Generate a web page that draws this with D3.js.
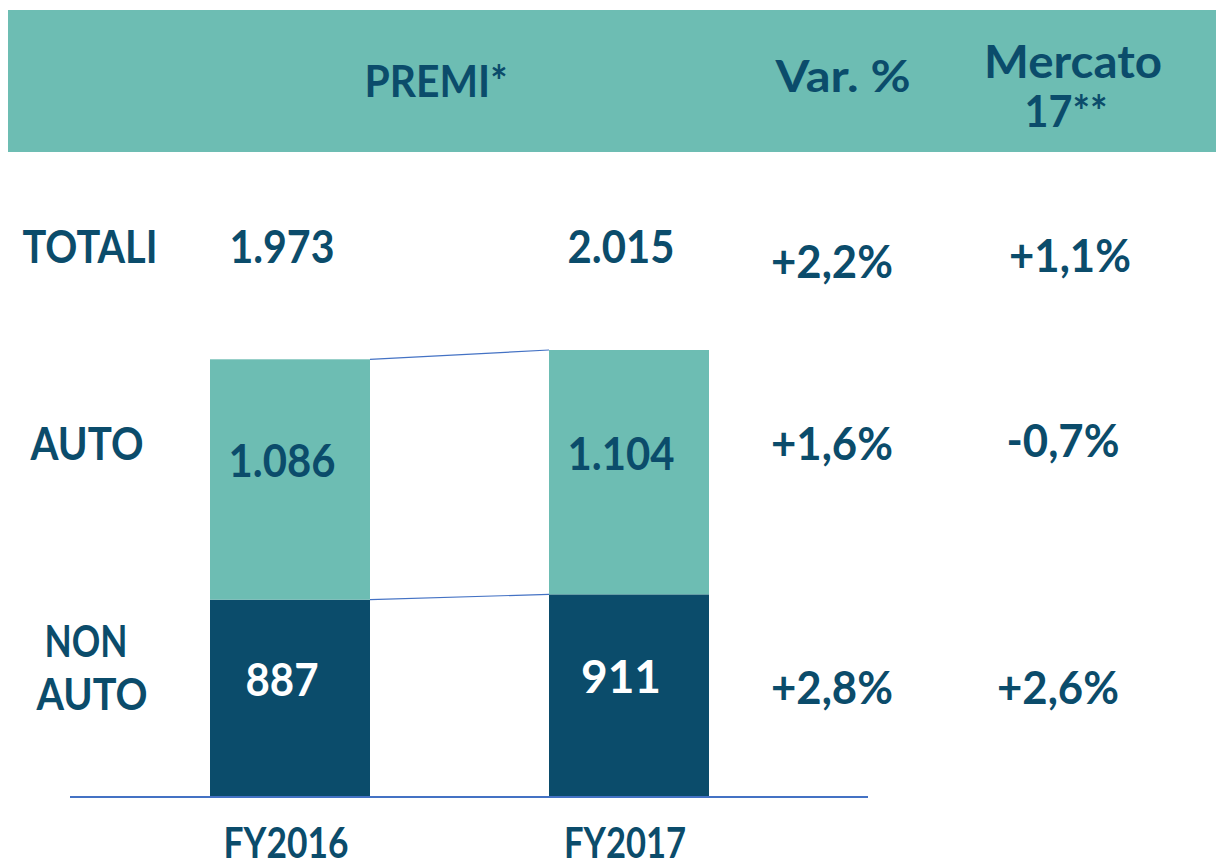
<!DOCTYPE html>
<html>
<head>
	<meta charset="utf-8">
	<title>Premi</title>
<style>
body { margin: 0; background: #fff; }
svg text {
	font-family: Lato, "Open Sans", sans-serif;
	font-weight: 700;
	fill: #0B4C6B;
}
</style>
</head>
<body>
<script src="https://cdn.jsdelivr.net/npm/d3@7"></script>
<script>
// data
var years = ["FY2016", "FY2017"];
var nonAuto = [887, 911];
var auto = [1086, 1104];
var totals = [1973, 2015];
var rowNames = ["TOTALI", "AUTO", "NON AUTO"];
var varPct = ["+2,2%", "+1,6%", "+2,8%"];
var mercato = ["+1,1%", "-0,7%", "+2,6%"];

var width = 1216, height = 866;
var teal = "#6DBDB3", navy = "#0B4C6B", lineBlue = "#4472C4";

var svg = d3.select("body").append("svg")
	.attr("width", width)
	.attr("height", height);

var fmt = function(v){ return d3.format(",")(v).replace(/,/g, "."); };

// squeeze text to the width it has on the slide (the original font is narrower)
function label(px, py, txt, size, w){
	var t = svg.append("text").attr("x", px).attr("y", py)
		.attr("text-anchor", "middle").style("font-size", size + "px")
		.text(txt);
	if (w) t.attr("textLength", w).attr("lengthAdjust", "spacingAndGlyphs");
	return t;
}

// header band
svg.append("rect")
	.attr("x", 8).attr("y", 10)
	.attr("width", width - 8).attr("height", 142)
	.attr("fill", teal);

label(436, 97, "PREMI*", 44, 143);
label(843, 92, "Var. %", 44, 135);
label(1073, 78, "Mercato", 46, 178);
label(1066, 127, "17**", 44, 83);

// scales
var x = d3.scalePoint().domain(years).range([290, 629]);
var y = d3.scaleLinear().domain([0, 2015]).range([796, 350]);
var barW = 160;

// stacked bars
var g = svg.append("g");
g.selectAll("rect.non")
	.data(years).enter().append("rect")
	.attr("class", "non")
	.attr("x", function(d){ return x(d) - barW / 2; })
	.attr("y", function(d, i){ return y(nonAuto[i]); })
	.attr("width", barW)
	.attr("height", function(d, i){ return y(0) - y(nonAuto[i]); })
	.attr("fill", navy);
g.selectAll("rect.auto")
	.data(years).enter().append("rect")
	.attr("class", "auto")
	.attr("x", function(d){ return x(d) - barW / 2; })
	.attr("y", function(d, i){ return y(totals[i]); })
	.attr("width", barW)
	.attr("height", function(d, i){ return y(nonAuto[i]) - y(totals[i]); })
	.attr("fill", teal);

// connector lines between bars
[totals, nonAuto].forEach(function(arr){
	svg.append("line")
		.attr("x1", x(years[0]) + barW / 2).attr("y1", y(arr[0]))
		.attr("x2", x(years[1]) - barW / 2).attr("y2", y(arr[1]))
		.attr("stroke", lineBlue).attr("stroke-width", 1.2);
});

// baseline
svg.append("line")
	.attr("x1", 70).attr("x2", 868)
	.attr("y1", y(0) + 1).attr("y2", y(0) + 1)
	.attr("stroke", lineBlue).attr("stroke-width", 2);

// values inside bars
years.forEach(function(d, i){
	var cx = x(d) - 8;
	label(cx, (y(totals[i]) + y(nonAuto[i])) / 2 - 2, fmt(auto[i]), 46, 107);
	label(cx, (y(nonAuto[i]) + y(0)) / 2 - 2, fmt(nonAuto[i]), 46, i === 0 ? 73 : null)
		.style("fill", "#fff");
	// totals row
	label(cx, 263, fmt(totals[i]), 46, i === 0 ? 105 : 107);
	// year labels
	label(x(d) - 4, 858, d, 42, i === 0 ? 125 : 122);
});

// row labels
label(90, 263, rowNames[0], 46, 135);
label(87, 460, rowNames[1], 46, 113);
var parts = rowNames[2].split(" ");
label(86, 657, parts[0], 44, 83);
label(92, 710, parts[1], 44, 111);

// variation columns
var varY = [278, 460, 704];
var merY = [272, 457, 704];
var merX = [1070, 1063, 1058];
varPct.forEach(function(v, i){
	label(832, varY[i], v, 46, 122);
	label(merX[i], merY[i], mercato[i], 46, mercato[i] === "-0,7%" ? 113 : 122);
});
</script>
</body>
</html>
